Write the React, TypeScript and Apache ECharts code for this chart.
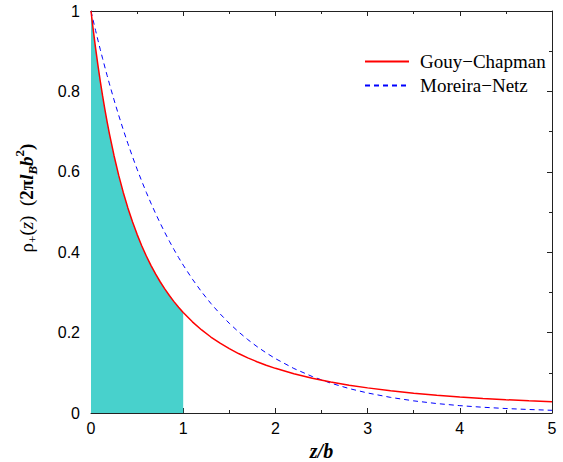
import React, { useEffect, useRef } from "react";
import * as echarts from "echarts";

const zValues = [0, 0.025, 0.05, 0.075, 0.1, 0.125, 0.15, 0.175, 0.2, 0.25, 0.3, 0.35, 0.4, 0.45, 0.5, 0.55, 0.6, 0.65, 0.7, 0.75, 0.8, 0.85, 0.9, 0.95, 1.0, 1.1, 1.2, 1.3, 1.4, 1.5, 1.6, 1.7, 1.8, 1.9, 2.0, 2.2, 2.4, 2.6, 2.8, 3.0, 3.25, 3.5, 3.75, 4.0, 4.25, 4.5, 4.75, 5.0];
const gouyChapman = [1.0, 0.9518, 0.907, 0.8653, 0.8264, 0.7901, 0.7561, 0.7243, 0.6944, 0.64, 0.5917, 0.5487, 0.5102, 0.4756, 0.4444, 0.4162, 0.3906, 0.3673, 0.346, 0.3265, 0.3086, 0.2922, 0.277, 0.263, 0.25, 0.2268, 0.2066, 0.189, 0.1736, 0.16, 0.1479, 0.1372, 0.1276, 0.1189, 0.1111, 0.0977, 0.0865, 0.0772, 0.0693, 0.0625, 0.0554, 0.0494, 0.0443, 0.04, 0.0363, 0.0331, 0.0302, 0.0278];
const moreiraNetz = [1.0, 0.9753, 0.9512, 0.9277, 0.9048, 0.8825, 0.8607, 0.8395, 0.8187, 0.7788, 0.7408, 0.7047, 0.6703, 0.6376, 0.6065, 0.5769, 0.5488, 0.522, 0.4966, 0.4724, 0.4493, 0.4274, 0.4066, 0.3867, 0.3679, 0.3329, 0.3012, 0.2725, 0.2466, 0.2231, 0.2019, 0.1827, 0.1653, 0.1496, 0.1353, 0.1108, 0.0907, 0.0743, 0.0608, 0.0498, 0.0388, 0.0302, 0.0235, 0.0183, 0.0143, 0.0111, 0.0087, 0.0067];
const shadeLimit = 1.0;
const xTicks = [0, 1, 2, 3, 4, 5];
const yTicks = [0, 0.2, 0.4, 0.6, 0.8, 1];

const serif = "Liberation Serif";
const sans = "Liberation Sans";

export default function App() {
  const ref = useRef<HTMLDivElement>(null);
  useEffect(() => {
    if (!ref.current) return;
    const chart = echarts.init(ref.current, undefined, { renderer: "svg" });
    const gc = zValues.map((z, i) => [z, gouyChapman[i]]);
    const mn = zValues.map((z, i) => [z, moreiraNetz[i]]);
    const shade = gc.filter((p) => p[0] <= shadeLimit);
    const axisLine = { show: true, onZero: false, lineStyle: { color: "#222", width: 1 } };
    const tickBase = { show: true, inside: true, length: 5, lineStyle: { color: "#222" } };
    const minor = { show: true, splitNumber: 2, length: 3, lineStyle: { color: "#222" } };
    chart.setOption({
      animation: false,
      grid: { left: 91, right: 11, top: 11, bottom: 49, containLabel: false, outerBoundsMode: "none" },
      legend: {
        data: ["Gouy−Chapman", "Moreira−Netz"],
        orient: "vertical",
        left: 359,
        top: 47,
        itemWidth: 44,
        itemHeight: 14,
        itemGap: 5,
        itemStyle: { opacity: 0 },
        textStyle: { fontFamily: serif, fontSize: 19, color: "#000", padding: [0, 0, 0, 6] },
      },
      xAxis: [
        {
          type: "value",
          min: 0,
          max: 5,
          interval: 1,
          axisLine,
          axisTick: tickBase,
          minorTick: minor,
          splitLine: { show: false },
          axisLabel: {
            fontFamily: sans,
            fontSize: 16,
            color: "#000",
            margin: 7,
            formatter: (v: number) => (xTicks.includes(v) ? String(v) : ""),
          },
          name: "z/b",
          nameLocation: "middle",
          nameGap: 24,
          nameTextStyle: { fontFamily: serif, fontSize: 20, fontWeight: "bold", fontStyle: "italic", color: "#000" },
        },
        {
          type: "value",
          position: "top",
          min: 0,
          max: 5,
          interval: 1,
          axisLine,
          axisTick: tickBase,
          minorTick: minor,
          splitLine: { show: false },
          axisLabel: { show: false },
        },
      ],
      yAxis: [
        {
          type: "value",
          min: 0,
          max: 1,
          interval: 0.2,
          axisLine,
          axisTick: tickBase,
          minorTick: minor,
          splitLine: { show: false },
          axisLabel: {
            fontFamily: sans,
            fontSize: 16,
            color: "#000",
            margin: 11,
            formatter: (v: number) => {
              const r = Math.round(v * 10) / 10;
              return yTicks.includes(r) ? String(r) : "";
            },
          },
          name: "{a|ρ}{sub|+}{a|(}{i|z}{a|)  (}{b|2π}{bi|l}{bsub|B}{bi|b}{sup|2}{b|)}",
          nameLocation: "middle",
          nameGap: 52,
          nameRotate: 90,
          nameTextStyle: {
            color: "#000",
            padding: [0, 0, 0, 28],
            rich: {
              a: { fontFamily: serif, fontSize: 19, color: "#000", lineHeight: 26 },
              i: { fontFamily: serif, fontSize: 19, fontStyle: "italic", color: "#000", lineHeight: 26 },
              b: { fontFamily: serif, fontSize: 19, fontWeight: "bold", color: "#000", lineHeight: 26 },
              bi: { fontFamily: serif, fontSize: 19, fontWeight: "bold", fontStyle: "italic", color: "#000", lineHeight: 26 },
              sub: { fontFamily: serif, fontSize: 13, color: "#000", verticalAlign: "bottom", lineHeight: 26, padding: [10, 0, 0, 0] },
              bsub: { fontFamily: serif, fontSize: 13, fontStyle: "italic", fontWeight: "bold", color: "#000", verticalAlign: "bottom", lineHeight: 26, padding: [10, 0, 0, 0] },
              sup: { fontFamily: serif, fontSize: 13, fontWeight: "bold", color: "#000", verticalAlign: "top", lineHeight: 26, padding: [0, 0, 10, 0] },
            },
          },
        },
        {
          type: "value",
          position: "right",
          min: 0,
          max: 1,
          interval: 0.2,
          axisLine,
          axisTick: tickBase,
          minorTick: minor,
          splitLine: { show: false },
          axisLabel: { show: false },
        },
      ],
      series: [
        {
          name: "shade",
          type: "line",
          data: shade,
          smooth: false,
          symbol: "none",
          lineStyle: { width: 0 },
          areaStyle: { color: "#48D1CC", opacity: 1 },
          z: 1,
        },
        {
          name: "Gouy−Chapman",
          type: "line",
          data: gc,
          smooth: false,
          symbol: "none",
          lineStyle: { color: "#ff0000", width: 1.5, type: "solid" },
          itemStyle: { color: "#ff0000" },
          z: 3,
        },
        {
          name: "Moreira−Netz",
          type: "line",
          data: mn,
          smooth: false,
          symbol: "none",
          lineStyle: { color: "#0000ff", width: 1, type: [5, 4] },
          itemStyle: { color: "#0000ff" },
          z: 2,
        },
      ],
    });
    return () => chart.dispose();
  }, []);
  return <div ref={ref} style={{ width: 563, height: 462, position: "absolute", left: 0, top: 0 }} />;
}
